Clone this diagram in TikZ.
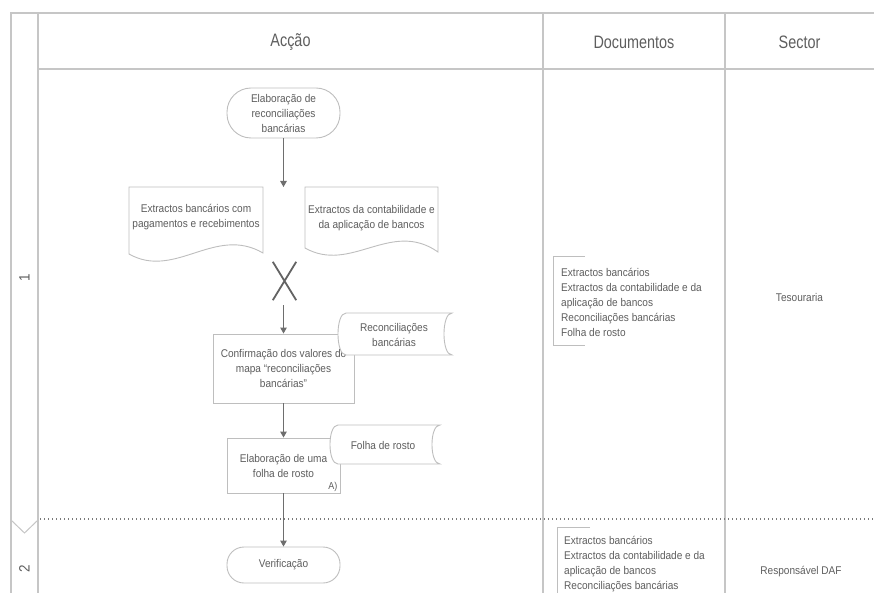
\documentclass[tikz,border=0pt]{standalone}
\usepackage{fontspec}
\setmainfont{Liberation Sans}[FakeStretch=0.9]
\newfontfamily\headfont{Liberation Sans}[FakeStretch=0.8]
\usetikzlibrary{arrows.meta,calc}
\definecolor{lanegray}{HTML}{C6C6C6}
\definecolor{shapegray}{HTML}{BEBEBE}
\definecolor{arrowgray}{HTML}{6E6E6E}
\definecolor{txtgray}{HTML}{5E5E5E}
\definecolor{dotgray}{HTML}{7A7A7A}
\tikzset{
  lane/.style={draw=lanegray, line width=1.4pt},
  shp/.style={draw=shapegray, line width=0.9pt, fill=white},
  lbl/.style={text=txtgray, font=\fontsize{11.2}{15}\selectfont, align=center, inner sep=0pt},
  head/.style={text=txtgray, font=\headfont\fontsize{18}{20}\selectfont, inner sep=0pt},
  flow/.style={draw=arrowgray, line width=1.1pt, -{Triangle[width=6.5pt,length=6pt]}},
  termbox/.style={shp, lbl, minimum width=113pt},
  procbox/.style={shp, lbl, rectangle},
  xmark/.style={draw=arrowgray!90!black, line width=1.8pt},
  doclist/.style={text=txtgray, font=\fontsize{11.2}{15}\selectfont, align=left, inner sep=0pt},
  bracket/.style={draw=shapegray, line width=1pt},
  sep/.style={draw=dotgray, line width=1.3pt, dash pattern=on 1.3pt off 2.7pt},
  lanenum/.style={text=txtgray, font=\fontsize{15}{17}\selectfont, inner sep=0pt, rotate=90}
}
\begin{document}
\begin{tikzpicture}[x=1pt,y=-1pt]
\useasboundingbox (0,0) rectangle (874,593);
\clip (0,0) rectangle (874,593);

% table frame
\draw[lane] (11,600) -- (11,13) -- (874,13);
\draw[lane] (38,13) -- (38,600);
\draw[lane] (38,69) -- (874,69);
\draw[lane] (543,13) -- (543,600);
\draw[lane] (725,13) -- (725,600);
\draw[lane, line width=1pt] (11,520) -- (24.5,533) -- (38,520);
\draw[sep] (40,519) -- (874,519);

% headers
\node[head] (hA) at (290.5,42) {Acção};
\node[head] (hD) at (634,42) {Documentos};
\node[head] (hS) at (799.5,42) {Sector};

% lane labels
\node[lanenum] (l1) at (24.5,278) {1};
\node[lanenum] (l2) at (24.5,569) {2};

% start terminal
\node[termbox, minimum height=50pt, rounded corners=24pt] (t1) at (283.5,113) {Elaboração de\\reconciliações\\bancárias};
\coordinate (m1) at (283.5,187);

% document 1
\path[shp] (129,187) -- (263,187) -- (263,253) .. controls (215,225) and (175,280) .. (129,254) -- cycle;
\node[lbl] (d1) at (196,217) {Extractos bancários com\\pagamentos e recebimentos};
% document 2
\path[shp] (305,187) -- (438,187) -- (438,252) .. controls (391,219) and (351,274) .. (305,248) -- cycle;
\node[lbl] (d2) at (371.5,218) {Extractos da contabilidade e\\da aplicação de bancos};

% X merge
\node[minimum width=23pt, minimum height=38pt, inner sep=0pt] (xm) at (284.5,281) {};
\draw[xmark] (xm.north west) -- (xm.south east) (xm.north east) -- (xm.south west);

% confirmation box
\node[procbox, minimum width=141pt, minimum height=69pt] (c1) at (283.5,368.5) {Confirmação dos valores do\\mapa “reconciliações\\bancárias”};
% stored data: Reconciliações bancárias
\path[shp] (346,313) -- (452,313) .. controls (441.3,313) and (441.3,355) .. (452,355) -- (346,355) .. controls (335.3,355) and (335.3,313) .. (346,313) -- cycle;
\node[lbl] (r1) at (394,335) {Reconciliações\\bancárias};

% folha de rosto box
\node[procbox, minimum width=113pt, minimum height=55pt] (b2) at (283.5,465.5) {Elaboração de uma\\folha de rosto};
\node[lbl, font=\fontsize{10}{12}\selectfont, anchor=south east] (a1) at ([xshift=-3pt,yshift=2pt]b2.south east) {A)};
% stored data: Folha de rosto
\path[shp] (338,425) -- (440,425) .. controls (429.3,425) and (429.3,464) .. (440,464) -- (338,464) .. controls (327.3,464) and (327.3,425) .. (338,425) -- cycle;
\node[lbl] (f1) at (383,445) {Folha de rosto};

% verificação terminal
\node[termbox, minimum height=36pt, rounded corners=17pt] (v1) at (283.5,565) {Verificação};

% flow
\draw[flow] (t1) -- (m1);
\draw[flow] ($(c1.north |- xm.south)+(0,5)$) -- (c1);
\draw[flow] (c1) -- (b2);
\draw[flow] (b2) -- (v1);

% documents column
\draw[bracket] (585,257) -- (553,257) -- (553,345) -- (585,345);
\node[doclist, anchor=north west] (dl1) at (561,268) {Extractos bancários\\Extractos da contabilidade e da\\aplicação de bancos\\Reconciliações bancárias\\Folha de rosto};
\draw[bracket] (590,527) -- (557,527) -- (557,600);
\node[doclist, anchor=north west] (dl2) at (564,536) {Extractos bancários\\Extractos da contabilidade e da\\aplicação de bancos\\Reconciliações bancárias};

% sector column
\node[lbl] (s1) at (799.5,297) {Tesouraria};
\node[lbl] (s2) at (801,572) {Responsável DAF};
\end{tikzpicture}
\end{document}
